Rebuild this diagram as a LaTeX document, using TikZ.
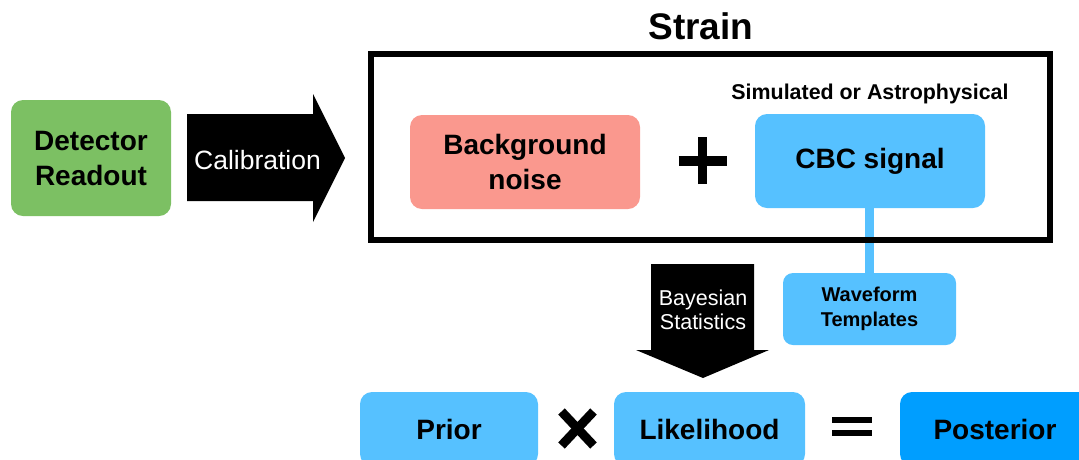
\documentclass[tikz,border=0pt]{standalone}
\usepackage{fontspec}
\setmainfont{Liberation Sans}
\definecolor{detgreen}{RGB}{124,192,99}
\definecolor{noisered}{RGB}{250,152,142}
\definecolor{sigblue}{RGB}{86,193,255}
\definecolor{postblue}{RGB}{0,158,255}
\tikzset{
  box/.style={rectangle, rounded corners=12pt, draw=none, align=center, inner sep=0pt,
    font=\fontsize{28}{35}\selectfont\bfseries},
  small/.style={font=\fontsize{20}{25}\selectfont\bfseries, align=center, inner sep=0pt},
  whitetxt/.style={text=white, align=center, inner sep=0pt},
  blockarrow/.style={fill=black},
  opline/.style={line width=#1, draw=black}
}
\begin{document}
\begin{tikzpicture}[x=1pt,y=-1pt]
\useasboundingbox (0,0) rectangle (1079,459);
\clip (0,0) rectangle (1079,459);
% Detector readout
\node[box, fill=detgreen, minimum width=160pt, minimum height=116pt] (det) at (91,158) {Detector\\Readout};
% Calibration arrow
\fill[blockarrow] (187,114) -- (313,114) -- (313,94) -- (345,158) -- (313,222) -- (313,201) -- (187,201) -- cycle;
\node[whitetxt, font=\fontsize{26.5}{30}\selectfont] (cal) at (257.5,160) {Calibration};
% Strain title
\node[inner sep=0pt, font=\fontsize{37}{40}\selectfont\bfseries, anchor=base] (straintitle) at (701,39) {Strain};
% inner boxes
\node[box, fill=noisered, minimum width=230pt, minimum height=94pt] (bg) at (525,162) {Background\\noise};
\node[box, fill=sigblue, minimum width=230pt, minimum height=94pt] (cbc) at (870,161) {CBC signal};
\node[small, font=\fontsize{21.4}{25}\selectfont\bfseries] (sim) at (870,94) {Simulated or Astrophysical};
% plus
\coordinate (plusc) at (702.5,160.5);
\draw[opline=10pt] ([xshift=-24pt]plusc) -- ([xshift=24pt]plusc);
\draw[opline=9pt] ([yshift=-23.5pt]plusc) -- ([yshift=23.5pt]plusc);
% waveform templates
\node[box, small, fill=sigblue, rounded corners=10pt, minimum width=173pt, minimum height=72pt] (wave) at (869.5,309) {Waveform\\Templates};
\draw[line width=9pt, sigblue] (cbc.south -| wave.north) -- (wave.north);
% strain frame
\node[draw=black, line width=6pt, minimum width=679pt, minimum height=186pt, inner sep=0pt] (frame) at (710.5,147) {};
% Bayesian statistics arrow
\fill[blockarrow] (651,264) -- (754,264) -- (754,350) -- (769,350) -- (703,378) -- (636,350) -- (651,350) -- cycle;
\node[whitetxt, font=\fontsize{21.5}{24}\selectfont] (bayes) at (703,310) {Bayesian\\Statistics};
% bottom row
\node[box, fill=sigblue, minimum width=178pt, minimum height=74pt] (prior) at (449,429) {Prior};
\node[box, fill=sigblue, minimum width=191pt, minimum height=74pt] (like) at (709.5,429) {Likelihood};
\node[box, fill=postblue, minimum width=190pt, minimum height=74pt] (post) at (995,429) {Posterior};
% times
\coordinate (timesc) at (577.5,428.5);
\draw[opline=9pt] ([shift={(-16pt,-17pt)}]timesc) -- ([shift={(16pt,17pt)}]timesc);
\draw[opline=9pt] ([shift={(16pt,-17pt)}]timesc) -- ([shift={(-16pt,17pt)}]timesc);
% equals
\coordinate (eqc) at (852,426.5);
\draw[opline=6pt] ([shift={(-20pt,-6.5pt)}]eqc) -- ([shift={(20pt,-6.5pt)}]eqc);
\draw[opline=6pt] ([shift={(-20pt,6.5pt)}]eqc) -- ([shift={(20pt,6.5pt)}]eqc);
\end{tikzpicture}
\end{document}
